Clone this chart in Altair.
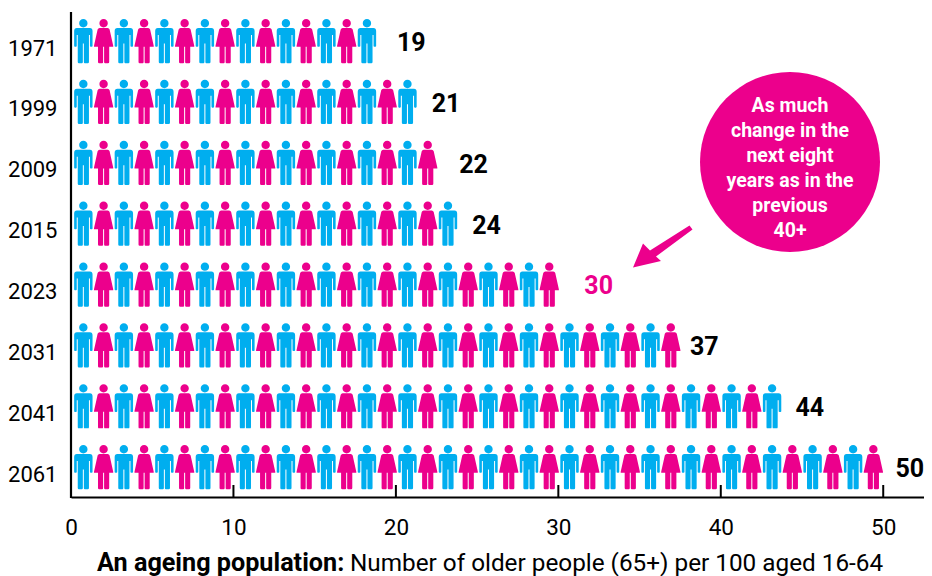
import altair as alt
import pandas as pd

years = ["1971", "1999", "2009", "2015", "2023", "2031", "2041", "2061"]
values = [19, 21, 22, 24, 30, 37, 44, 50]
icon_counts = [15, 17, 18, 19, 24, 30, 35, 40]
label_at = [20.07, 22.2, 23.9, 24.7, 31.6, 38.1, 44.6, 50.75]
ticks = [0, 10, 20, 30, 40, 50]
bubble_text = "As much\nchange in the\nnext eight\nyears as in the\nprevious\n40+"

BLUE = "#00AEEF"
PINK = "#EC008C"
FONT = "Roboto"

HEAD = "M-4.2 -17.8A4.2 4.2 0 1 0 4.2 -17.8A4.2 4.2 0 1 0 -4.2 -17.8Z"
MAN = HEAD + (
    "M-6.5 -13L6.5 -13Q9.2 -13 9.2 -10L9.2 5Q9.2 5.8 8.4 5.8L7.4 5.8Q6.6 5.8 6.6 5"
    "L6.6 -6L5.6 -6L5.6 21Q5.6 22.2 4.4 22.2L1.5 22.2Q0.5 22.2 0.5 21L0.5 2.5L-0.5 2.5"
    "L-0.5 21Q-0.5 22.2 -1.5 22.2L-4.4 22.2Q-5.6 22.2 -5.6 21L-5.6 -6L-6.6 -6L-6.6 5"
    "Q-6.6 5.8 -7.4 5.8L-8.4 5.8Q-9.2 5.8 -9.2 5L-9.2 -10Q-9.2 -13 -6.5 -13Z"
)
WOMAN = HEAD + (
    "M-4 -13L4 -13Q5.5 -13 6 -11.5L9.6 4.8L9.6 5.7L5.6 5.7L5.6 21Q5.6 22.2 4.4 22.2"
    "L1.5 22.2Q0.5 22.2 0.5 21L0.5 5.7L-0.5 5.7L-0.5 21Q-0.5 22.2 -1.5 22.2L-4.4 22.2"
    "Q-5.6 22.2 -5.6 21L-5.6 5.7L-9.6 5.7L-9.6 4.8L-6 -11.5Q-5.5 -13 -4 -13Z"
)
ARROW = "M28.5 -21L31.5 -17L-5 10L-0 14.5L-28 21L-18 -3L-11 4Z"

W, H = 853, 485
x_scale = alt.Scale(domain=[0, 52.51], range=[0, W], nice=False, zero=False)
y_scale = alt.Scale(type="point", domain=years, range=[29, 455], padding=0)

x_axis = alt.Axis(
    values=ticks, title=None, tickSize=0, grid=False, labelFontSize=22.5, labelFont=FONT,
    labelColor="black", labelPadding=19, domainColor="black", domainWidth=2.2,
    labelBaseline="top", labelFlush=False, labelOverlap=False, format="d",
)
y_axis = alt.Axis(
    title=None, tickSize=0, grid=False, labelFontSize=22, labelFont=FONT, labelColor="black",
    labelPadding=14, labelOffset=7, domain=False,
)

icons = pd.DataFrame(
    [
        {"year": y, "x": 0.76 + 1.247 * i, "kind": "man" if i % 2 == 0 else "woman"}
        for y, n in zip(years, icon_counts)
        for i in range(n)
    ]
)
labels = pd.DataFrame({"year": years, "value": values, "at": label_at})

icon_layer = alt.Chart(icons).mark_point(filled=True, size=4, opacity=1, strokeWidth=0).encode(
    x=alt.X("x:Q", scale=x_scale, axis=x_axis),
    y=alt.Y("year:N", scale=y_scale, sort=years, axis=y_axis),
    shape=alt.Shape("kind:N", scale=alt.Scale(domain=["man", "woman"], range=[MAN, WOMAN]), legend=None),
    color=alt.Color("kind:N", scale=alt.Scale(domain=["man", "woman"], range=[BLUE, PINK]), legend=None),
)

tick_layer = alt.Chart(pd.DataFrame({"x": ticks[1:]})).mark_rule(color="black", strokeWidth=2).encode(
    x=alt.X("x:Q", scale=x_scale, axis=x_axis),
    y=alt.value(473),
    y2=alt.value(485),
)

y_line = alt.Chart(pd.DataFrame({"a": [0]})).mark_rule(color="black", strokeWidth=2.2).encode(
    x=alt.value(0),
    y=alt.value(0),
    y2=alt.value(486),
)

label_layer = alt.Chart(labels).mark_text(
    align="left", baseline="middle", font=FONT, fontWeight="bold", fontSize=25, dy=2
).encode(
    x=alt.X("at:Q", scale=x_scale, axis=x_axis),
    y=alt.Y("year:N", scale=y_scale, sort=years, axis=y_axis),
    text=alt.Text("value:Q"),
    color=alt.condition(alt.datum.year == "2023", alt.value(PINK), alt.value("black")),
)

bubble = alt.Chart(pd.DataFrame({"a": [0]})).mark_point(
    filled=True, shape="circle", size=32400, color=PINK, opacity=1, strokeWidth=0
).encode(x=alt.value(719), y=alt.value(150))

bubble_label = alt.Chart(pd.DataFrame({"a": [0]})).mark_text(
    text=bubble_text, lineBreak="\n", lineHeight=24.9, align="center", baseline="middle",
    font=FONT, fontWeight="bold", fontSize=19.5, color="white",
).encode(x=alt.value(719), y=alt.value(94))

arrow = alt.Chart(pd.DataFrame({"a": [0]})).mark_point(
    filled=True, shape=ARROW, size=4, color=PINK, opacity=1, strokeWidth=0
).encode(x=alt.value(590), y=alt.value(234.5))

title_bold = alt.Chart(pd.DataFrame({"a": [0]})).mark_text(
    text="An ageing population:", align="left", baseline="alphabetic",
    font=FONT, fontWeight="bold", fontSize=25.2, color="black",
).encode(x=alt.value(26), y=alt.value(559))

title_reg = alt.Chart(pd.DataFrame({"a": [0]})).mark_text(
    text="Number of older people (65+) per 100 aged 16-64", align="left", baseline="alphabetic",
    font=FONT, fontSize=24.3, color="black",
).encode(x=alt.value(279), y=alt.value(559))

chart = alt.layer(
    icon_layer, tick_layer, y_line, label_layer, bubble, bubble_label, arrow, title_bold, title_reg
).properties(
    width=W,
    height=H,
    autosize=alt.AutoSizeParams(type="none"),
    padding={"left": 63, "top": 4, "right": 0, "bottom": 79},
).configure_view(stroke=None)

chart.save("out.html", embed_options={"renderer": "svg", "actions": False})
